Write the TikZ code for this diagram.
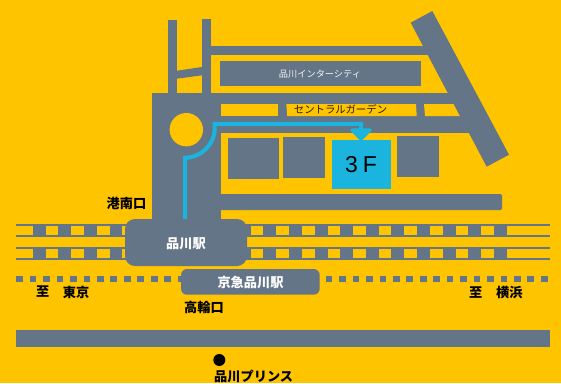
\documentclass[tikz,border=0pt]{standalone}
\usepackage{fontspec}
\setmainfont{Noto Sans CJK JP}
\newfontfamily\latinfont{Liberation Sans}
\definecolor{bgY}{HTML}{FFC400}
\definecolor{roadG}{HTML}{647587}
\definecolor{routeB}{HTML}{1AB4DE}
\tikzset{
  road/.style={fill=roadG,draw=none},
  hole/.style={fill=bgY,draw=none},
  lab/.style={font=\fontsize{13.2}{13.2}\selectfont\bfseries,text=black,inner sep=0pt},
  whitelab/.style={lab,text=white},
  thinlab/.style={inner sep=0pt,font=\fontsize{10.4}{10.4}\selectfont,text=black!85!bgY},
  route/.style={draw=routeB,line width=4pt}
}
\begin{document}
\begin{tikzpicture}[x=1pt,y=-1pt]
\path[use as bounding box,fill=bgY] (0,0) rectangle (561,383);
% upper roads
\fill[road] (168,20) rectangle (177,95);
\fill[road] (202,19) rectangle (211,95);
\fill[road] (177,70.7) -- (202,67) -- (202,75.3) -- (177,78.7) -- cycle;
\fill[road] (211,46) rectangle (430,55);
\fill[road] (152,93) rectangle (221,222);
\fill[road] (221,93) rectangle (472,133);
\fill[hole] (221,104) rectangle (278,116);
\fill[hole] (286.3,104) -- (416,104) -- (416.7,116) -- (287.2,116) -- cycle;
\fill[hole] (424,104) -- (470,104) -- (470,116) -- (425,116) -- cycle;
\fill[road] (410.7,22.7) -- (432.3,11) -- (509,154.7) -- (486.7,166.7) -- cycle;
\fill[road] (220,61) rectangle (421,86);
\fill[road,rounded corners=1.5pt] (215,194) rectangle (502,210);
\fill[hole] (186.3,129.7) circle (16.7);
% blocks
\fill[road] (228,138) rectangle (279,179);
\fill[road] (283,137) rectangle (325,178);
\fill[road] (397,136) rectangle (439,177);
\fill[routeB] (332,140) rectangle (391,189);
% route
\draw[route] (185,220.7) -- (185,157.7) arc[start angle=90,end angle=0,radius=29.7] -- (214.7,123.8) -- (361,123.8) -- (361,131);
\fill[routeB,draw=routeB,line width=3.4pt,line join=round] (352,130) -- (370,130) -- (361,139) -- cycle;
% tracks
\foreach \ya/\yb/\ha/\hb in {224/237/226/235,247/260.3/249.3/258.3}{
  \fill[road] (16,\ya) rectangle (550,\yb);
  \fill[hole] (16,\ha) rectangle (33,\hb);
  \foreach \x in {45.7,71.3,97,122.3,250.7,276.3,301.9,327.5,353.1,378.7,404.3,429.9,455.5,481.1}
    \fill[hole] (\x,\ha) rectangle (\x+12.7,\hb);
  \fill[hole] (506.7,\ha) rectangle (550,\hb);
}
% Keikyu line
\foreach \i in {0,...,12}
  \fill[road] (16.3+\i*13.45,276) rectangle +(6.7,6.3);
\foreach \i in {0,...,16}
  \fill[road] (325.7+\i*13.45,276) rectangle +(6.7,6.3);
% stations
\fill[road,rounded corners=10pt] (125,219) rectangle (247,266);
\fill[road,rounded corners=6pt] (181,269) rectangle (319.7,294.7);
\fill[road] (16,330.3) rectangle (550,346.7);
\fill[black] (219.3,360) circle (6);
% labels
\node[inner sep=0pt,text=white!92!roadG,font=\fontsize{9.2}{9.2}\selectfont] (city) at (320,74) {品川インターシティ};
\node[thinlab] (garden) at (340.5,109.5) {セントラルガーデン};
\node[inner sep=0pt,text=black,font=\latinfont\fontsize{23}{23}\selectfont] (floor) at (361,165) {3\kern5pt F};
\node[lab] (konan) at (126.5,203.5) {港南口};
\node[whitelab] (shinagawa) at (186,243.5) {品川駅};
\node[whitelab] (keikyu) at (250.5,282.7) {京急品川駅};
\node[lab] (takanawa) at (204,307) {高輪口};
\node[lab] (itaru1) at (42.7,292) {至};
\node[lab] (tokyo) at (76,292) {東京};
\node[lab] (itaru2) at (475.8,292.3) {至};
\node[lab] (yokohama) at (509.3,292.3) {横浜};
\node[lab] (prince) at (253.7,376.5) {品川プリンス};
\end{tikzpicture}
\end{document}
